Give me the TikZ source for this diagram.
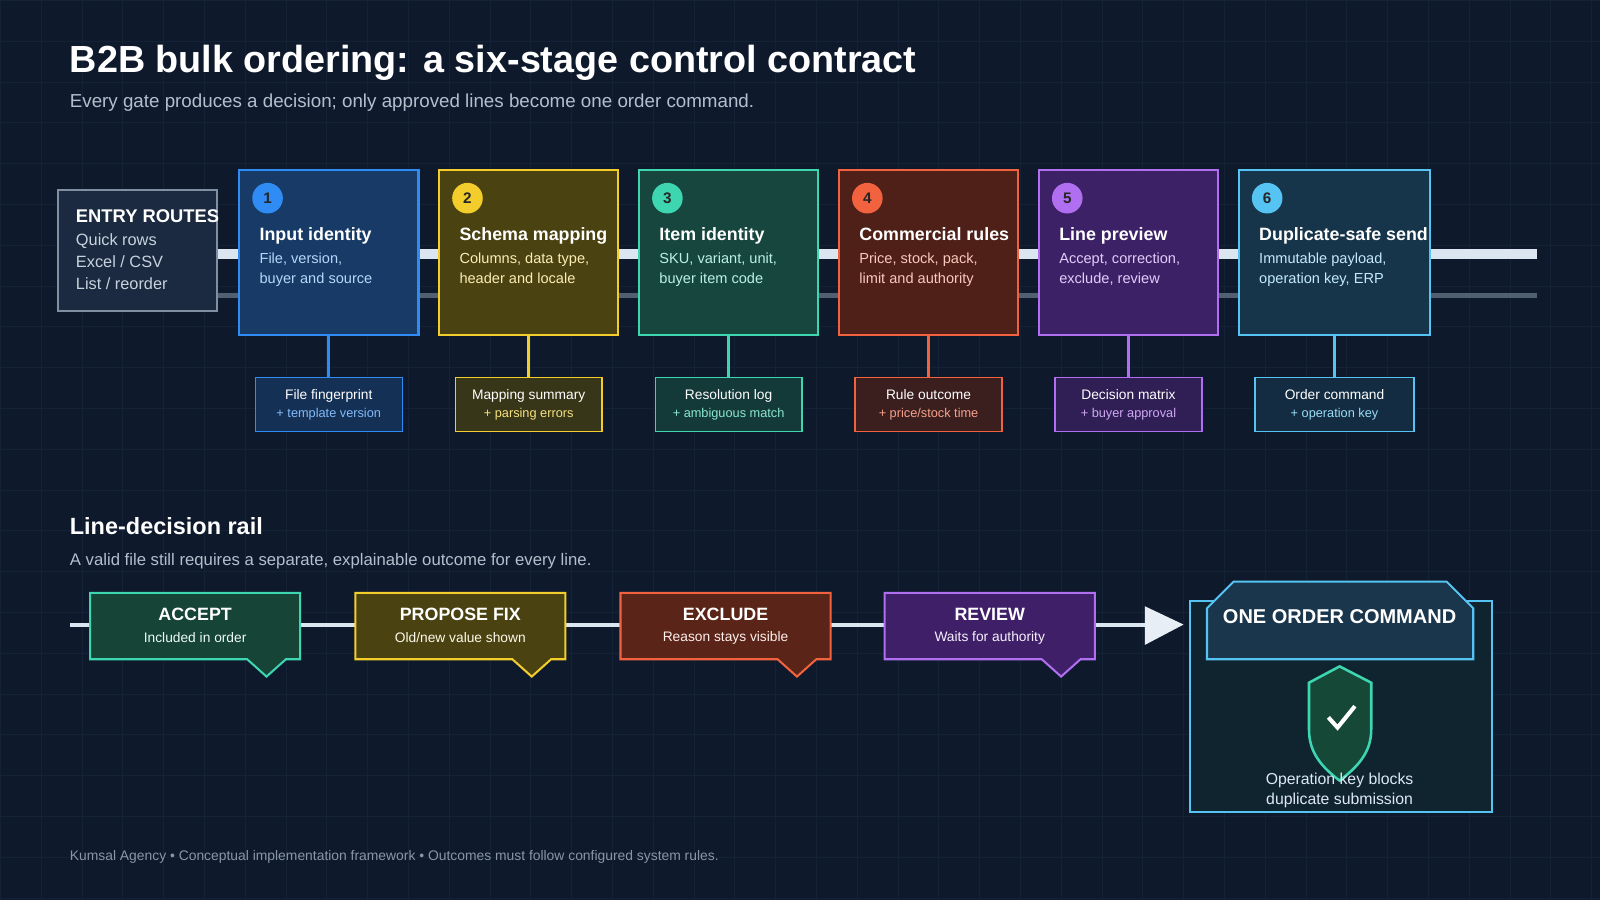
\documentclass[tikz,border=0pt]{standalone}
\usepackage{fontspec}
\setmainfont{Liberation Sans}
\begin{document}
\definecolor{bg}{HTML}{0E1A2C}
\definecolor{gridc}{HTML}{132236}
\definecolor{railL}{HTML}{DCE6F0}
\definecolor{railD}{HTML}{506072}
\definecolor{entB}{HTML}{8090A2}
\definecolor{entF}{HTML}{1B2A40}
\definecolor{entT}{HTML}{C8D2DE}
\definecolor{subc}{HTML}{B4BECC}
\definecolor{arrc}{HTML}{E8EEF6}
\definecolor{ocF}{HTML}{102430}
\definecolor{ocH}{HTML}{1A364C}
\definecolor{shF}{HTML}{164838}
\definecolor{otc}{HTML}{DCE8F4}
\definecolor{ftc}{HTML}{8A96A8}
\definecolor{c1}{HTML}{2F8CF5}\definecolor{f1}{HTML}{173A66}
\definecolor{c2}{HTML}{F2CD2C}\definecolor{f2}{HTML}{4A4210}
\definecolor{c3}{HTML}{3DD6B0}\definecolor{f3}{HTML}{17463E}
\definecolor{c4}{HTML}{F2623F}\definecolor{f4}{HTML}{4E2018}
\definecolor{c5}{HTML}{B06EF0}\definecolor{f5}{HTML}{3D2166}
\definecolor{c6}{HTML}{55C4F2}\definecolor{f6}{HTML}{16344A}
\definecolor{g1}{HTML}{164436}\definecolor{g2}{HTML}{4A4210}\definecolor{g3}{HTML}{5A2418}\definecolor{g4}{HTML}{3F2068}
\begin{tikzpicture}[x=1pt,y=-1pt,
  title/.style={anchor=base west,text=white,font=\bfseries\fontsize{37}{40}\selectfont,inner sep=0},
  sub/.style={anchor=base west,text=subc,font=\fontsize{18.4}{22}\selectfont,inner sep=0},
  stitle/.style={anchor=base west,text=white,font=\bfseries\fontsize{17.5}{20}\selectfont,inner sep=0},
  sdesc/.style={anchor=north west,text=#1,font=\fontsize{14.3}{20}\selectfont,align=left,inner sep=0},
  num/.style={circle,fill=#1,minimum size=30pt,inner sep=0,text=black!85,font=\bfseries\fontsize{15}{15}\selectfont},
  obox/.style={draw=#1,line width=1.3pt,minimum height=53pt,inner sep=0,align=center,font=\fontsize{13.5}{19}\selectfont,text=white}]
\fill[bg] (0,0) rectangle (1568,882);
\foreach \i in {0,40,...,1560} \draw[gridc,line width=0.6pt] (\i,0) -- (\i,882);
\foreach \j in {0,40,...,880} \draw[gridc,line width=0.6pt] (0,\j) -- (1568,\j);
\useasboundingbox (0,0) rectangle (1568,882);

\node[title] (t) at (68,71) {B2B bulk ordering: a six-stage control contract};
\node[sub] (st) at (68,105) {Every gate produces a decision; only approved lines become one order command.};

% rails
\coordinate (r1) at (1507,249); \coordinate (r2) at (1507,289);
\draw[line width=10pt,railL] (212,249) -- (r1);
\draw[line width=5pt,railD] (212,289) -- (r2);

% entry
\node[draw=entB,line width=2pt,fill=entF,minimum width=155pt,minimum height=119pt] (entry) at (134.5,245.5) {};
\node[anchor=base west,text=white,font=\bfseries\fontsize{18}{20}\selectfont,inner sep=0] (et) at (74,218) {ENTRY ROUTES};
\node[sdesc=entT,font=\fontsize{16}{21.5}\selectfont] (ed) at (74,229) {Quick rows\\Excel / CSV\\List / reorder};

\def\sw{176}\def\ow{144}
\newcommand\mystage[9]{%
  \node[draw=#3,line width=2pt,fill=#4,minimum width=\sw pt,minimum height=162pt,inner sep=0] (s#1) at (#2+\sw/2,247) {};
  \node[num=#3] (n#1) at (#2+28,194) {#1};
  \node[stitle] (h#1) at (#2+20,235) {#5};
  \node[sdesc=#3!35!white] (d#1) at (#2+20,247) {#6\\#7};
  \node[obox=#3,fill=#4!70!bg,minimum width=\ow pt] (o#1) at (#2+\sw/2,396.5) {#8\\[-2pt]{\fontsize{12.5}{14}\selectfont\color{#3!60!white}#9}};
  \draw[#3,line width=2.5pt] (s#1.south) -- (o#1.north);
}
\mystage{1}{234}{c1}{f1}{Input identity}{File, version,}{buyer and source}{File fingerprint}{+ template version}
\mystage{2}{430}{c2}{f2}{Schema mapping}{Columns, data type,}{header and locale}{Mapping summary}{+ parsing errors}
\mystage{3}{626}{c3}{f3}{Item identity}{SKU, variant, unit,}{buyer item code}{Resolution log}{+ ambiguous match}
\mystage{4}{822}{c4}{f4}{Commercial rules}{Price, stock, pack,}{limit and authority}{Rule outcome}{+ price/stock time}
\mystage{5}{1018}{c5}{f5}{Line preview}{Accept, correction,}{exclude, review}{Decision matrix}{+ buyer approval}
\def\sw{188}\def\ow{156}
\mystage{6}{1214}{c6}{f6}{Duplicate-safe send}{Immutable payload,}{operation key, ERP}{Order command}{+ operation key}

% line-decision rail
\node[anchor=base west,text=white,font=\bfseries\fontsize{23}{26}\selectfont,inner sep=0] (lt) at (68,524) {Line-decision rail};
\node[sub,font=\fontsize{16.4}{18}\selectfont] (ls) at (68,554) {A valid file still requires a separate, explainable outcome for every line.};
\coordinate (rs) at (68,612);
\coordinate (ah) at (1122,612);
\draw[line width=4pt,railL] (rs) -- (ah);
\fill[arrc] (1122,594) -- (1160,612) -- (1122,632) -- cycle;

\newcommand\mydec[6]{%
  \draw[#3,line width=2pt,fill=#4] (#2,581) -- (#2+206,581) -- (#2+206,646) -- (#2+192,646) -- (#2+173,663) -- (#2+154,646) -- (#2,646) -- cycle;
  \node[text=white,font=\bfseries\fontsize{17.5}{20}\selectfont,inner sep=0] (dt#1) at (#2+103,602) {#5};
  \node[text=white!90!#3,font=\fontsize{13.5}{16}\selectfont,inner sep=0] (dd#1) at (#2+103,625) {#6};
}
\mydec{1}{88}{c3}{g1}{ACCEPT}{Included in order}
\mydec{2}{348}{c2}{g2}{PROPOSE FIX}{Old/new value shown}
\mydec{3}{608}{c4}{g3}{EXCLUDE}{Reason stays visible}
\mydec{4}{867}{c5}{g4}{REVIEW}{Waits for authority}

% order command
\draw[c6,line width=2pt,fill=ocF] (1166,589) rectangle (1462,796);
\draw[c6,line width=2pt,fill=ocH] (1183,646) -- (1183,596) -- (1209,570) -- (1418,570) -- (1444,596) -- (1444,646) -- cycle;
\node[text=white,font=\bfseries\fontsize{19.6}{22}\selectfont,inner sep=0] (oc) at (1313,604) {ONE ORDER COMMAND};
\draw[c3,line width=2.5pt,fill=shF] (1313,653) -- (1344,669) -- (1344,715) .. controls (1344,738) and (1330,752) .. (1313,765) .. controls (1296,752) and (1283,738) .. (1283,715) -- (1283,669) -- cycle;
\draw[white,line width=4pt] (1302,703) -- (1311,713) -- (1328,692);
\node[text=otc,font=\fontsize{15.5}{19.5}\selectfont,align=center,inner sep=0] (ot) at (1313,775) {Operation key blocks\\duplicate submission};

\node[anchor=base west,text=ftc,font=\fontsize{13.6}{15}\selectfont,inner sep=0] (ft) at (68,843) {Kumsal Agency • Conceptual implementation framework • Outcomes must follow configured system rules.};
\end{tikzpicture}
\end{document}
